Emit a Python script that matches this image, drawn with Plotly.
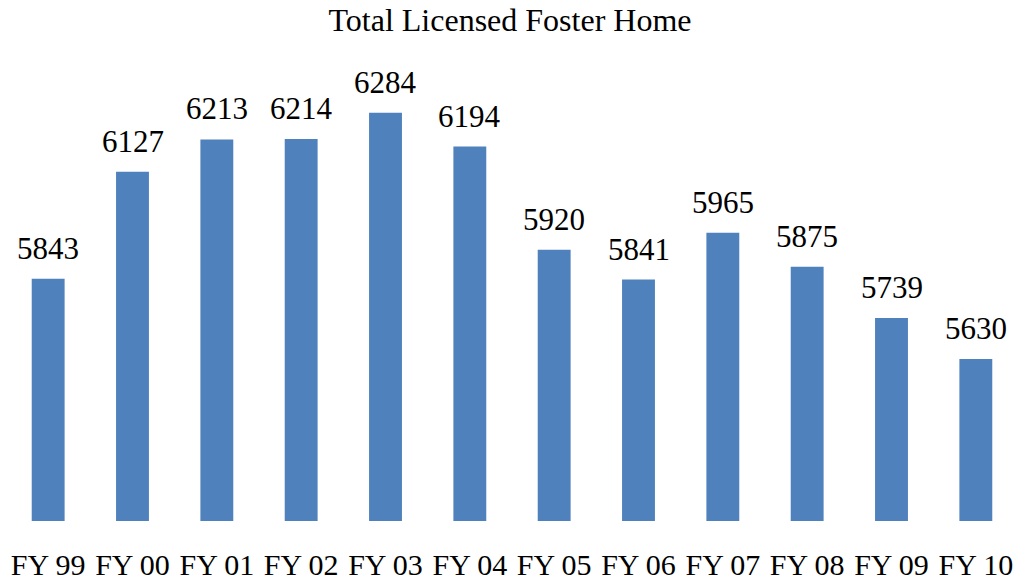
import plotly.graph_objects as go

categories = ["FY 99", "FY 00", "FY 01", "FY 02", "FY 03", "FY 04",
              "FY 05", "FY 06", "FY 07", "FY 08", "FY 09", "FY 10"]
values = [5843, 6127, 6213, 6214, 6284, 6194, 5920, 5841, 5965, 5875, 5739, 5630]

FONT = "Liberation Serif, Times New Roman, serif"

fig = go.Figure(go.Bar(
    x=categories, y=values,
    marker=dict(color="#4F81BD", line=dict(width=0)),
    cliponaxis=False,
))

for c, v in zip(categories, values):
    fig.add_annotation(x=c, y=v, text=str(v), showarrow=False,
                       yanchor="bottom", yshift=11,
                       font=dict(family=FONT, size=31, color="black"))

fig.update_layout(
    width=1020, height=581,
    margin=dict(l=6, r=2, t=69, b=60),
    paper_bgcolor="white", plot_bgcolor="white",
    bargap=0.61,
    showlegend=False,
    title=dict(text="Total Licensed Foster Home", x=0.5, xanchor="center",
               y=1 - 20 / 581, yanchor="middle", yref="container",
               font=dict(family=FONT, size=32, color="black")),
    xaxis=dict(showline=False, showgrid=False, ticks="outside", ticklen=17,
               tickcolor="rgba(0,0,0,0)", automargin=False,
               tickfont=dict(family=FONT, size=30, color="black")),
    yaxis=dict(range=[5200, 6400], visible=False, showgrid=False, automargin=False),
)

fig.write_html("out.html", config={"displayModeBar": False},
               post_script="document.body.style.margin='0';document.body.style.padding='0';")
